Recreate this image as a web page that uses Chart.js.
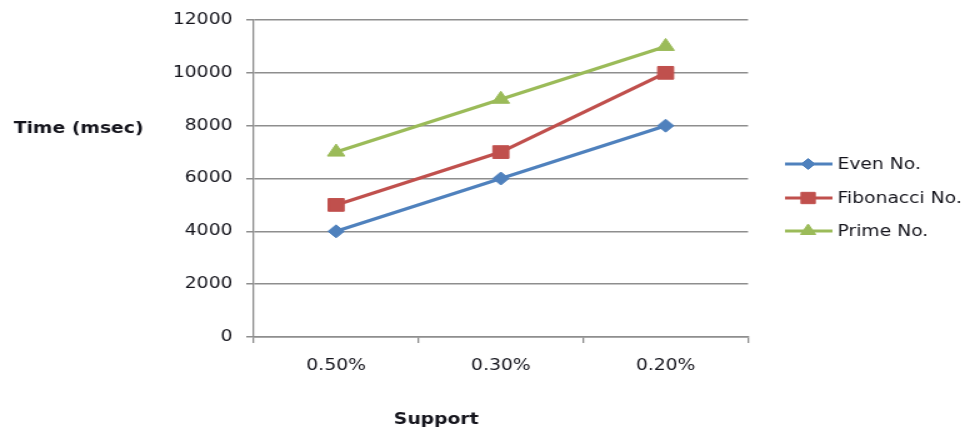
<!DOCTYPE html>
<html>
<head>
<meta charset="utf-8">
<script src="https://cdn.jsdelivr.net/npm/chart.js@4/dist/chart.umd.min.js"></script>
<style>
  html, body { margin: 0; padding: 0; background: #fff; overflow: hidden; }
  #wrap { width: 962px; height: 430px; position: relative; overflow: hidden; }
  #c { transform: scaleX(1.25); transform-origin: 0 0; }
</style>
</head>
<body>
<div id="wrap"><canvas id="c" width="770" height="430"></canvas></div>
<script>
const categories = ['0.50%', '0.30%', '0.20%'];
const evenNo = [4000, 6000, 8000];
const fibonacciNo = [5000, 7000, 10000];
const primeNo = [7000, 9000, 11000];
const seriesNames = ['Even No.', 'Fibonacci No.', 'Prime No.'];
const yTitle = 'Time (msec)';
const xTitle = 'Support';

const FONT = "'DejaVu Sans', sans-serif";
const TEXT = '#14141c';
const GRID = '#8e8e8e';
const colors = ['#4F81BD', '#C0504D', '#9BBB59'];
const styles = ['rectRot', 'rect', 'triangle'];
const radii = [6.5, 9, 8];

const datasets = [evenNo, fibonacciNo, primeNo].map((d, i) => ({
  label: seriesNames[i],
  data: d,
  borderColor: colors[i],
  backgroundColor: colors[i],
  borderWidth: 3.3,
  pointStyle: styles[i],
  pointRadius: radii[i],
  pointHoverRadius: radii[i],
  pointBorderWidth: 1,
  tension: 0
}));

const extras = {
  id: 'extras',
  afterDraw(chart) {
    const ctx = chart.ctx;
    ctx.save();
    ctx.fillStyle = TEXT;
    ctx.font = "bold 15px " + FONT;
    ctx.textBaseline = 'middle';
    ctx.textAlign = 'left';
    ctx.fillText(yTitle, 11, 129);
    ctx.textAlign = 'center';
    ctx.fillText(xTitle, 349, 420);
    // legend
    const ys = [164, 198, 231];
    ctx.font = "15px " + FONT;
    ctx.textAlign = 'left';
    datasets.forEach((ds, i) => {
      const y = ys[i];
      ctx.strokeStyle = ds.borderColor;
      ctx.lineWidth = 3;
      ctx.beginPath();
      ctx.moveTo(628, y);
      ctx.lineTo(666, y);
      ctx.stroke();
      ctx.fillStyle = ds.backgroundColor;
      ctx.lineWidth = 1;
      if (Chart.helpers && Chart.helpers.drawPoint) {
        Chart.helpers.drawPoint(ctx, { pointStyle: ds.pointStyle, radius: ds.pointRadius - 1, borderWidth: 1 }, 646.5, y);
      }
      ctx.fillStyle = TEXT;
      ctx.fillText(ds.label, 670, y + 1);
    });
    ctx.restore();
  }
};

new Chart(document.getElementById('c'), {
  type: 'line',
  data: { labels: categories, datasets },
  options: {
    responsive: false,
    animation: false,
    devicePixelRatio: 1,
    layout: { padding: { left: 0, right: 171.6, top: 19, bottom: 0 } },
    plugins: { legend: { display: false }, tooltip: { enabled: false } },
    scales: {
      x: {
        offset: true,
        grid: { offset: true, drawOnChartArea: false, drawTicks: true, tickLength: 6, color: GRID, lineWidth: 1.3 },
        border: { color: GRID, width: 1.5 },
        ticks: { color: TEXT, font: { family: FONT, size: 15 }, padding: 14 },
        afterFit(s) { s.height = 93; }
      },
      y: {
        min: 0, max: 12000,
        ticks: { stepSize: 2000, color: TEXT, font: { family: FONT, size: 15 }, padding: 11,
                 callback: v => String(v) },
        grid: { color: GRID, lineWidth: 1.5, tickLength: 6 },
        border: { color: GRID, width: 1.3 },
        afterFit(s) { s.width = 203; }
      }
    }
  },
  plugins: [extras]
});
</script>
</body>
</html>
